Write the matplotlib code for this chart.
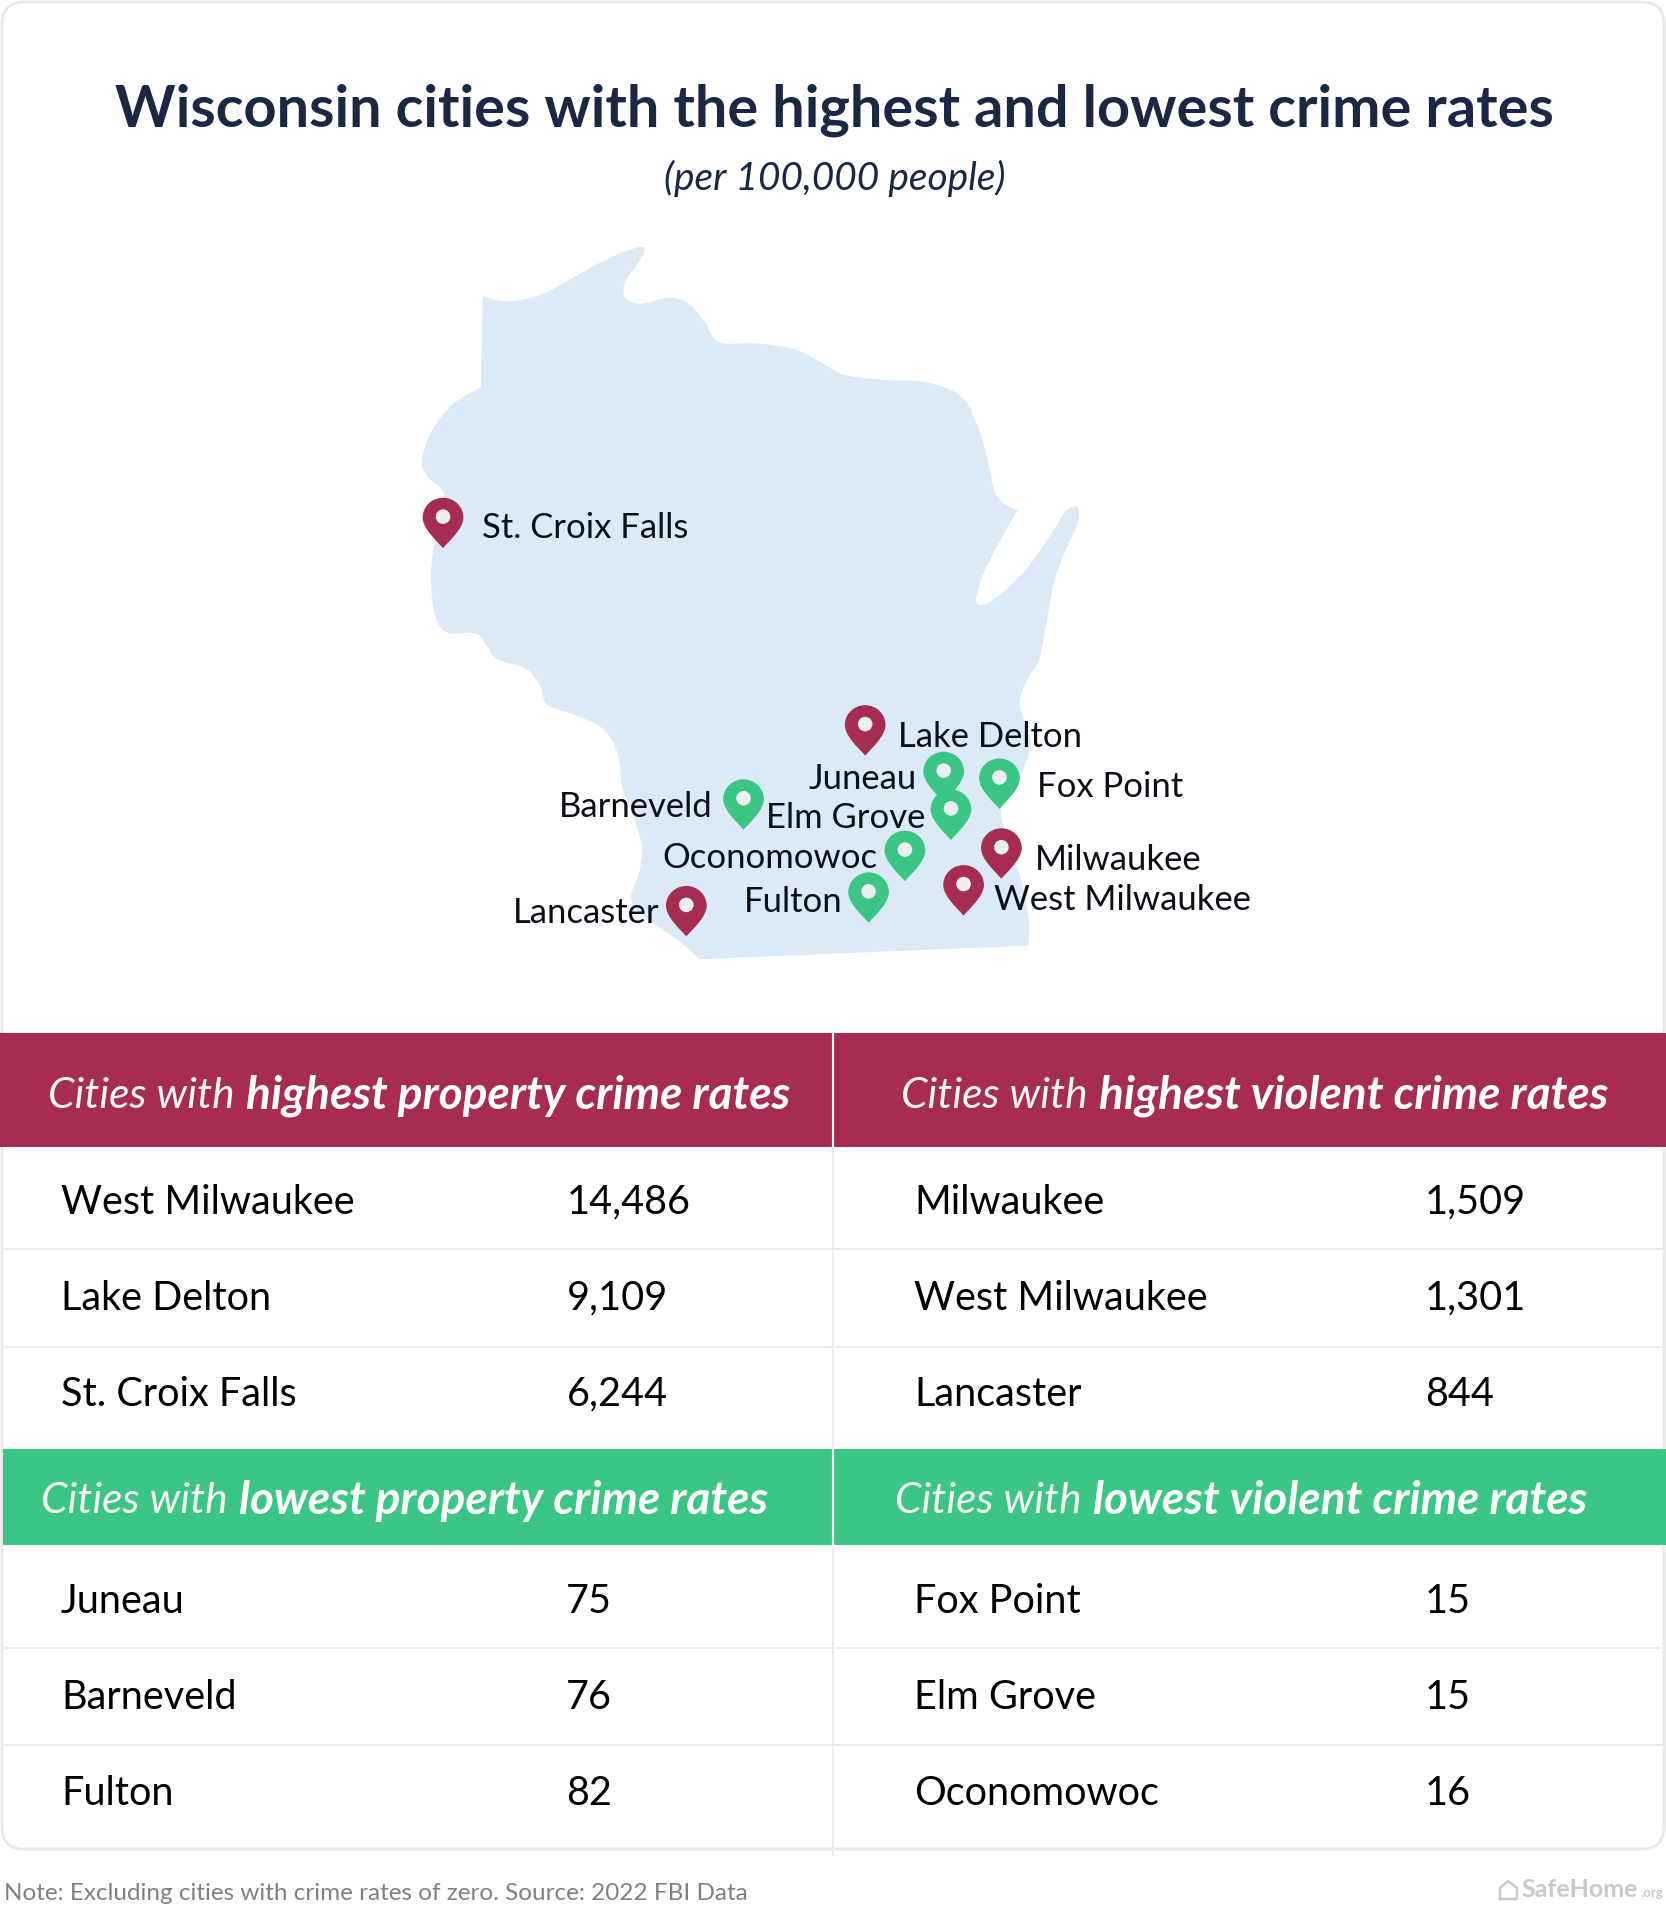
import matplotlib
matplotlib.use('Agg')
import matplotlib.pyplot as plt
from matplotlib.patches import FancyBboxPatch, PathPatch, Rectangle, Circle
from matplotlib.path import Path
from matplotlib.transforms import Affine2D

plt.rcParams['font.family'] = ['Lato', 'DejaVu Sans']

WIDTH, HEIGHT = 1666, 1910
RED = '#A62C51'
GREEN = '#3BC684'
NAVY = '#1B2845'
LAND = '#DCE9F7'

# map outline in map units
northBorder = [(212, 157), (260, 168), (330, 155), (400, 118), (470, 80), (530, 57), (546, 60), (535, 85),
               (510, 120), (502, 150), (515, 168), (545, 172), (600, 160), (640, 175), (670, 210), (700, 252),
               (780, 255), (860, 268), (920, 300), (960, 320), (1040, 330), (1130, 335), (1200, 365),
               (1235, 430), (1255, 500), (1265, 550), (1280, 580), (1315, 600)]
lakeShore = [(1315, 600), (1280, 660), (1245, 730), (1230, 780), (1240, 795), (1270, 780), (1330, 725),
             (1390, 640), (1415, 600), (1438, 592), (1440, 625), (1415, 680), (1390, 750), (1375, 830),
             (1360, 905), (1335, 950), (1320, 1000), (1342, 1080), (1320, 1150), (1282, 1215), (1300, 1290),
             (1325, 1370), (1338, 1440), (1338, 1497)]
southBorder = [(1338, 1497), (660, 1525)]
westBorder = [(660, 1525), (620, 1490), (570, 1455), (530, 1425), (518, 1395), (535, 1345), (540, 1290),
              (520, 1220), (500, 1170), (490, 1100), (460, 1050), (400, 1020), (345, 1000), (330, 960),
              (300, 925), (240, 905), (215, 870), (195, 852), (140, 852), (115, 820), (105, 750), (110, 680),
              (128, 590), (130, 560), (95, 525), (87, 490), (110, 430), (150, 380), (208, 345)]
northwestEdge = [(208, 345), (212, 157)]

# cities on the map
cities = ['St. Croix Falls', 'Lake Delton', 'Juneau', 'Fox Point', 'Elm Grove', 'Barneveld',
          'Oconomowoc', 'Milwaukee', 'West Milwaukee', 'Fulton', 'Lancaster']
cityX = [130, 1001, 1163, 1278, 1178, 750, 1083, 1282, 1204, 1008, 632]
cityY = [677, 1105, 1201, 1215, 1279, 1258, 1364, 1359, 1435, 1450, 1478]
cityHigh = [True, True, False, False, False, False, False, True, True, False, True]
labelX = [210, 1068, 1107, 1356, 1126, 687, 1026, 1352, 1266, 954, 577]
labelY = [636, 1066, 1154, 1169, 1233, 1211, 1317, 1320, 1402, 1407, 1429]
labelSide = ['left', 'left', 'right', 'left', 'right', 'right', 'right', 'left', 'left', 'right', 'right']

# tables
highPropertyNames = ['West Milwaukee', 'Lake Delton', 'St. Croix Falls']
highPropertyRates = ['14,486', '9,109', '6,244']
highViolentNames = ['Milwaukee', 'West Milwaukee', 'Lancaster']
highViolentRates = ['1,509', '1,301', '844']
lowPropertyNames = ['Juneau', 'Barneveld', 'Fulton']
lowPropertyRates = ['75', '76', '82']
lowViolentNames = ['Fox Point', 'Elm Grove', 'Oconomowoc']
lowViolentRates = ['15', '15', '16']


def smoothPath(points):
    # Catmull-Rom through the points, as bezier pieces
    verts = []
    codes = []
    for i in range(len(points) - 1):
        p0 = points[max(i - 1, 0)]
        p1 = points[i]
        p2 = points[i + 1]
        p3 = points[min(i + 2, len(points) - 1)]
        c1 = (p1[0] + (p2[0] - p0[0]) / 6, p1[1] + (p2[1] - p0[1]) / 6)
        c2 = (p2[0] - (p3[0] - p1[0]) / 6, p2[1] - (p3[1] - p1[1]) / 6)
        verts += [c1, c2, p2]
        codes += [Path.CURVE4] * 3
    return verts, codes


def outlinePath(sections):
    verts = [sections[0][0]]
    codes = [Path.MOVETO]
    for section in sections:
        v, c = smoothPath(section)
        verts += v
        codes += c
    verts.append(verts[0])
    codes.append(Path.CLOSEPOLY)
    return Path(verts, codes)


def pinPath():
    verts = [(0, 0), (-12, -14), (-42, -40), (-42, -63), (-42, -86), (-23, -104), (0, -104),
             (23, -104), (42, -86), (42, -63), (42, -40), (12, -14), (0, 0), (0, 0)]
    codes = [Path.MOVETO] + [Path.CURVE4] * 12 + [Path.CLOSEPOLY]
    return Path(verts, codes)


def drawHeader(ax, x, y, light, bold):
    first = ax.text(x, y, light, color='#F6F6F6', fontsize=30.6, style='italic', va='center')
    box = first.get_window_extent(ax.figure.canvas.get_renderer())
    end = ax.transData.inverted().transform((box.x1, box.y0))[0]
    ax.text(end + 11, y, bold, color='white', fontsize=33, style='italic', fontweight='bold', va='center')


def drawRows(ax, nameX, rateX, rowY, names, rates):
    for y, name, rate in zip(rowY, names, rates):
        ax.text(nameX, y, name, color='black', fontsize=28.5, va='center')
        ax.text(rateX, y, rate, color='black', fontsize=28.5, va='center')


fig = plt.figure(figsize=(WIDTH / 100, HEIGHT / 100), dpi=100, facecolor='white')
ax = fig.add_axes([0, 0, 1, 1])
ax.set_xlim(0, WIDTH)
ax.set_ylim(HEIGHT, 0)
ax.axis('off')

# card
ax.add_patch(FancyBboxPatch((2, 2), WIDTH - 4, 1847, boxstyle='round,pad=0,rounding_size=22',
                            facecolor='white', edgecolor='#E8E8E8', linewidth=2))

# title block
ax.text(834, 110, 'Wisconsin cities with the highest and lowest crime rates', color=NAVY,
        fontsize=41.6, fontweight='bold', ha='center', va='center')
ax.text(835, 178, '(per 100,000 people)', color=NAVY, fontsize=28, style='italic', ha='center', va='center')

# header bands
ax.add_patch(Rectangle((0, 1033), WIDTH, 114, facecolor=RED, edgecolor='none'))
ax.add_patch(Rectangle((3, 1449), WIDTH - 3, 96, facecolor=GREEN, edgecolor='none'))
ax.plot([833, 833], [1033, 1855], color='#EBEBEB', linewidth=1.5)
ax.plot([833, 833], [1033, 1147], color='white', linewidth=1.5)
ax.plot([833, 833], [1449, 1545], color='white', linewidth=1.5)
for y in [1249, 1347, 1648, 1745]:
    ax.plot([3, WIDTH - 3], [y, y], color='#EDEDED', linewidth=1.5)

drawHeader(ax, 48, 1096, 'Cities with', 'highest property crime rates')
drawHeader(ax, 901, 1096, 'Cities with', 'highest violent crime rates')
drawHeader(ax, 41, 1501, 'Cities with', 'lowest property crime rates')
drawHeader(ax, 895, 1501, 'Cities with', 'lowest violent crime rates')

drawRows(ax, 61, 567, [1202, 1298, 1394], highPropertyNames, highPropertyRates)
drawRows(ax, 914, 1425, [1202, 1298, 1394], highViolentNames, highViolentRates)
drawRows(ax, 61, 566, [1601, 1697, 1793], lowPropertyNames, lowPropertyRates)
drawRows(ax, 914, 1425, [1601, 1697, 1793], lowViolentNames, lowViolentRates)

# footer
ax.text(4, 1893, 'Note: Excluding cities with crime rates of zero. Source: 2022 FBI Data', color='#808080',
        fontsize=17.5, va='center')
ax.text(1521, 1889, 'SafeHome', color='#C9C9C9', fontsize=18, fontweight='bold', va='center')
ax.text(1640, 1893, '.org', color='#C9C9C9', fontsize=9.5, fontweight='bold', va='center')
ax.plot([1500, 1500, 1508, 1517, 1517, 1500], [1899, 1888, 1881, 1888, 1899, 1899], color='#C9C9C9', linewidth=1.8)

# map, in its own axes
mapAx = fig.add_axes([380 / WIDTH, 1 - 980 / HEIGHT, 760 / WIDTH, 760 / HEIGHT])
mapAx.set_xlim(0, 1568)
mapAx.set_ylim(1568, 0)
mapAx.axis('off')
mapAx.add_patch(PathPatch(outlinePath([northBorder, lakeShore, southBorder, westBorder, northwestEdge]),
                          facecolor=LAND, edgecolor='none'))

pin = pinPath()
for x, y, high in zip(cityX, cityY, cityHigh):
    mapAx.add_patch(PathPatch(pin.transformed(Affine2D().translate(x, y)),
                              facecolor=RED if high else GREEN, edgecolor='none', zorder=3))
    mapAx.add_patch(Circle((x, y - 65), 15, facecolor='#ECEFF1', edgecolor='none', zorder=4))

for name, x, y, side in zip(cities, labelX, labelY, labelSide):
    mapAx.text(x, y, name, color='#0B0F19', fontsize=24.9, ha=side, va='center', zorder=5)

fig.savefig('out.png', dpi=100)
